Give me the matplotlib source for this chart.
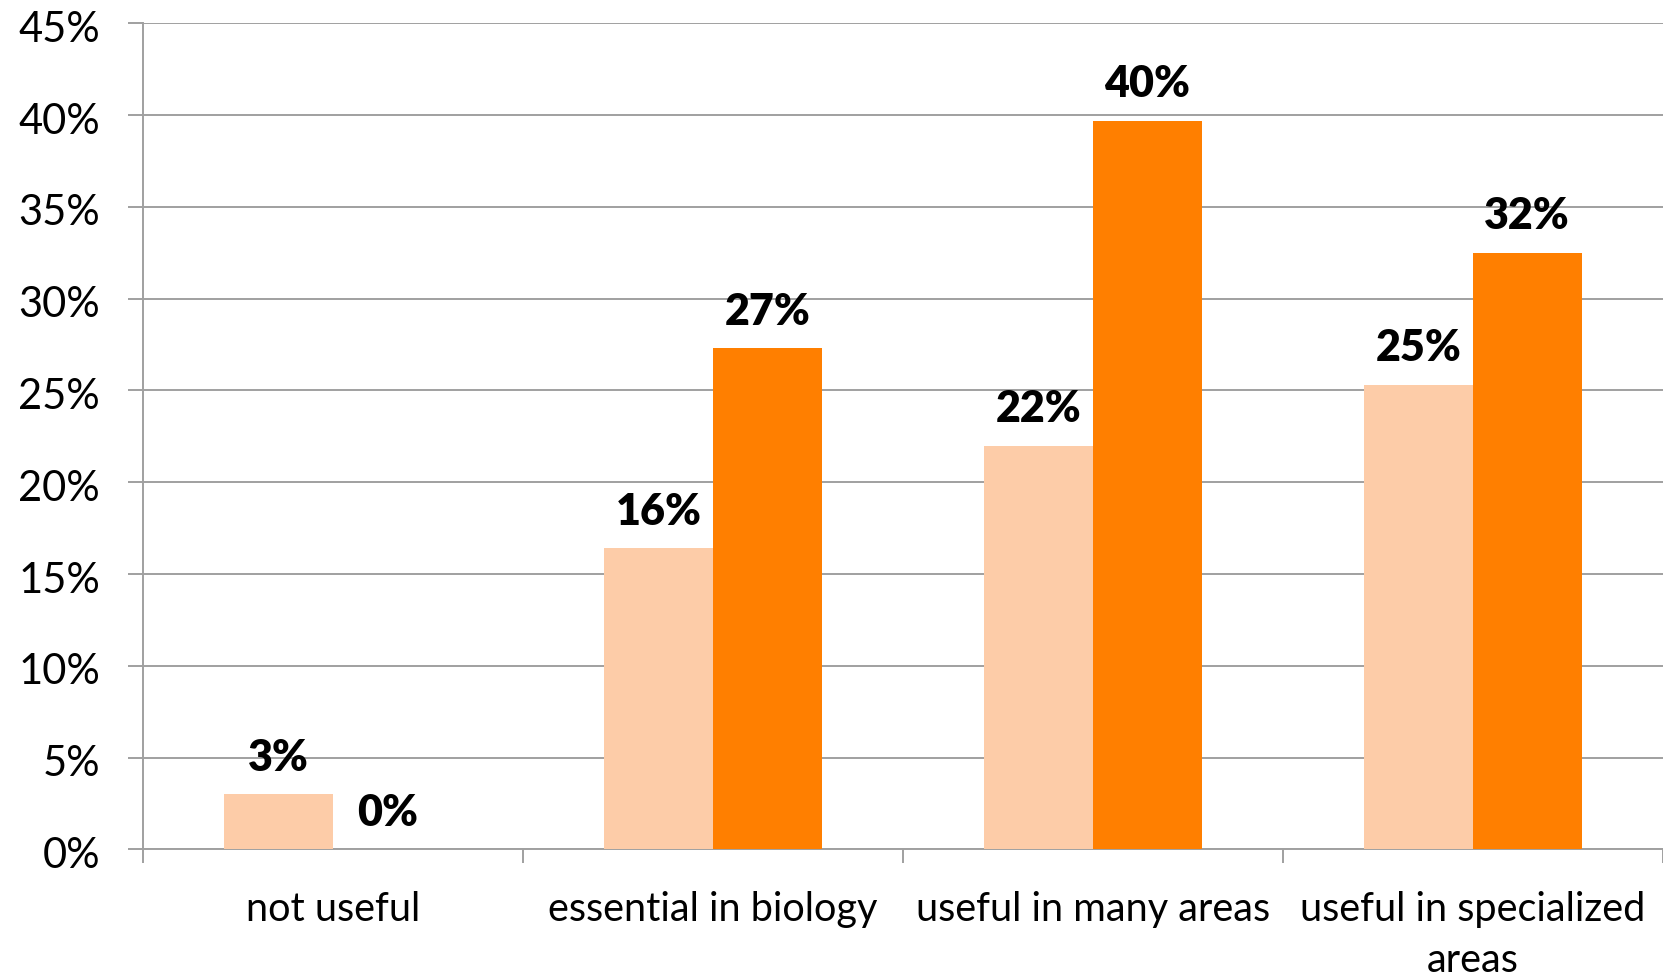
import matplotlib
matplotlib.use("Agg")
import matplotlib.pyplot as plt
from matplotlib.ticker import FixedLocator, NullFormatter
from matplotlib.transforms import ScaledTranslation

# Survey responses (percent of respondents)
categories = ["not useful", "essential in biology", "useful in many areas",
              "useful in specialized\nareas"]
series_a = [3.0, 16.4, 22.0, 25.3]
series_b = [0.0, 27.3, 39.7, 32.5]
labels_a = ["3%", "16%", "22%", "25%"]
labels_b = ["0%", "27%", "40%", "32%"]
y_ticks = [0, 5, 10, 15, 20, 25, 30, 35, 40, 45]
y_tick_labels = [f"{v}%" for v in y_ticks]

light = "#FDCCA8"
dark = "#FF7F00"
grid_gray = "#A0A0A0"
font = "Lato"

W, H = 1663, 977
fig = plt.figure(figsize=(W / 100, H / 100), dpi=100)
left_px, right_px, top_px, bottom_px = 143, 1663, 23.3, 849.4
ax = fig.add_axes([left_px / W, 1 - bottom_px / H,
                   (right_px - left_px) / W, (bottom_px - top_px) / H])

n = len(categories)
width = 108.6 / 380
xs = list(range(n))
ax.bar([x - width / 2 for x in xs], series_a, width=width, color=light, zorder=3)
ax.bar([x + width / 2 for x in xs], series_b, width=width, color=dark, zorder=3)

label_kw = dict(textcoords="offset points", ha="center", va="baseline",
                fontsize=31, fontweight="heavy", family=font, color="black",
                zorder=4)
for x, v, t in zip(xs, series_a, labels_a):
    ax.annotate(t, (x - width / 2, v), xytext=(0, 17), **label_kw)
for x, v, t in zip(xs, series_b, labels_b):
    ax.annotate(t, (x + width / 2, v), xytext=(0, 17), **label_kw)

ax.set_xlim(-0.5, n - 0.5)
ax.set_ylim(0, 45)

# y axis
ax.set_yticks(y_ticks)
ax.set_yticklabels(y_tick_labels, fontsize=30, family=font)
ax.yaxis.grid(True, color=grid_gray, linewidth=1.4, zorder=0)
ax.tick_params(axis="y", length=11, width=1.4, color=grid_gray, pad=20)
shift = ScaledTranslation(0, -3 / 100, fig.dpi_scale_trans)
for lbl in ax.get_yticklabels():
    lbl.set_transform(lbl.get_transform() + shift)

# x axis: boundary ticks, labels centred in each category
ax.xaxis.set_major_locator(FixedLocator([i - 0.5 for i in range(n + 1)]))
ax.xaxis.set_major_formatter(NullFormatter())
ax.xaxis.set_minor_locator(FixedLocator(xs))
ax.set_xticklabels(categories, minor=True, fontsize=28.5, family=font,
                   linespacing=1.45)
ax.tick_params(axis="x", which="major", length=10, width=1.4, color=grid_gray)
ax.tick_params(axis="x", which="minor", length=0, pad=30)

for side in ("top", "right"):
    ax.spines[side].set_visible(False)
for side in ("left", "bottom"):
    ax.spines[side].set_color(grid_gray)
    ax.spines[side].set_linewidth(1.4)
ax.set_axisbelow(True)

fig.savefig("out.png", dpi=100, facecolor="white")
